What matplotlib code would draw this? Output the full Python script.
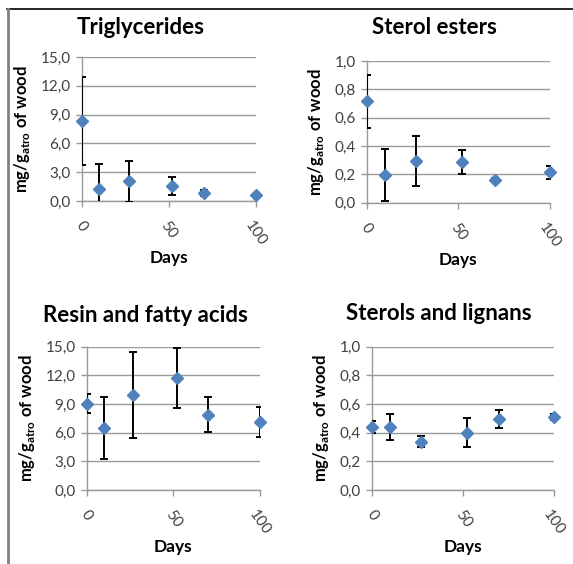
import numpy as np
import matplotlib
matplotlib.use('Agg')
import matplotlib.pyplot as plt
from matplotlib.lines import Line2D
from matplotlib.ticker import FuncFormatter

plt.rcParams['font.family'] = ['Lato', 'DejaVu Sans']
plt.rcParams['mathtext.fontset'] = 'custom'
plt.rcParams['mathtext.rm'] = 'Lato'
plt.rcParams['mathtext.bf'] = 'Lato:bold'

W, H = 573, 564

# Sampling days (same for every panel)
days = [0, 10, 27, 52, 70, 100]

# Triglycerides
tg_mean = [8.3, 1.3, 2.05, 1.55, 0.8, 0.6]
tg_err = [4.6, 2.6, 2.15, 0.9, 0.3, 0.1]

# Sterol esters
se_mean = [0.715, 0.195, 0.295, 0.287, 0.16, 0.214]
se_err = [0.185, 0.185, 0.175, 0.085, 0.012, 0.045]

# Resin and fatty acids
rf_mean = [9.05, 6.45, 9.9, 11.75, 7.9, 7.15]
rf_err = [0.98, 3.25, 4.5, 3.15, 1.85, 1.55]

# Sterols and lignans
sl_mean = [0.44, 0.44, 0.337, 0.40, 0.495, 0.51]
sl_err = [0.042, 0.088, 0.04, 0.103, 0.063, 0.02]

titles = ['Triglycerides', 'Sterol esters', 'Resin and fatty acids', 'Sterols and lignans']
means = [tg_mean, se_mean, rf_mean, sl_mean]
errs = [tg_err, se_err, rf_err, sl_err]
ymax = [15, 1.0, 15, 1.0]
ystep = [3, 0.2, 3, 0.2]

# axes boxes in pixels: (left, right, top, bottom)
boxes = [(81.7, 256, 57, 201),
         (366.7, 550, 61, 202.7),
         (86.7, 260, 346.7, 490),
         (372, 554, 346.7, 490)]
title_pos = [(141, 27), (434, 28), (145, 316), (439, 313)]

fig = plt.figure(figsize=(W / 100, H / 100), dpi=100)

grey = '#9a9a9a'
txt = '#404040'
blue = '#4F81BD'

for i in range(4):
    l, r, t, b = boxes[i]
    ax = fig.add_axes([l / W, 1 - b / H, (r - l) / W, (b - t) / H])
    ax.errorbar(days, means[i], yerr=errs[i], fmt='none', ecolor='black',
                elinewidth=1.4, capsize=3, capthick=1.4, zorder=3)
    ax.plot(days, means[i], linestyle='none', marker='D', markersize=6.5,
            color=blue, clip_on=False, zorder=4)
    ax.set_xlim(0, 100)
    ax.set_ylim(0, ymax[i])
    ax.set_xticks([0, 50, 100])
    ax.set_yticks(np.arange(0, ymax[i] + ystep[i] / 2, ystep[i]))
    ax.yaxis.set_major_formatter(FuncFormatter(lambda v, p: f'{v:.1f}'.replace('.', ',')))
    ax.grid(axis='y', color=grey, linewidth=1)
    ax.set_axisbelow(True)
    for s in ['top', 'right']:
        ax.spines[s].set_visible(False)
    for s in ['left', 'bottom']:
        ax.spines[s].set_color(grey)
        ax.spines[s].set_linewidth(1)
    ax.tick_params(axis='both', color=grey, length=4, width=1, labelcolor=txt,
                   labelsize=11)
    ax.tick_params(axis='y', pad=4)
    ax.tick_params(axis='x', pad=9)
    for lab in ax.get_xticklabels():
        lab.set_rotation(-55)
        lab.set_ha('center')
        lab.set_va('top')
    ax.set_xlabel('Days', fontweight='bold', fontsize=12.5, labelpad=1)
    ax.set_ylabel(r'mg/g$_{\mathbf{atro}}$ of wood', fontweight='bold', fontsize=12,
                  labelpad=6)
    tx, ty = title_pos[i]
    fig.text(tx / W, 1 - ty / H, titles[i], fontweight='bold', fontsize=16,
             ha='center', va='center')

# outer frame of the source figure
fig.add_artist(Line2D([7 / W, 1], [1 - 9 / H, 1 - 9 / H], color='black', linewidth=1.2))
fig.add_artist(Line2D([8 / W, 8 / W], [0, 1 - 9 / H], color='#808080', linewidth=2))

fig.savefig('out.png', dpi=100)
